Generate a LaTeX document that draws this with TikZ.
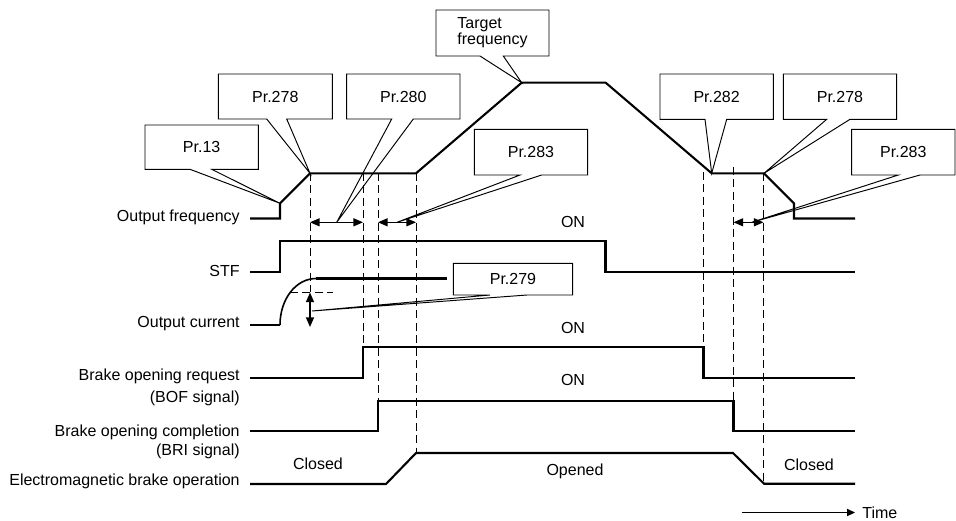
\documentclass[tikz,border=0pt]{standalone}
\usepackage{fontspec}
\setmainfont{Liberation Sans}
\usetikzlibrary{arrows.meta}
\newcommand\callbox[9]{%
  \draw[callout] (#2,#3) -- (#4,#3) -- (#4,#5) -- (#7,#5) -- (#8) -- (#6,#5) -- (#2,#5) -- cycle;
  \node[lbl] (#1) at ({(#2+#4)/2},{(#3+#5)/2}) {#9};
}
\begin{document}
\begin{tikzpicture}[x=0.625pt,y=-0.625pt,
  sig/.style={line width=1.3pt, line join=miter},
  dsh/.style={line width=0.6pt, dash pattern=on 5pt off 2.8pt},
  callout/.style={line width=0.6pt, line join=miter},
  lbl/.style={inner sep=0pt, font=\fontsize{10}{11}\selectfont},
  dimarrow/.style={line width=0.8pt, {Triangle[length=6pt,width=5pt]}-{Triangle[length=6pt,width=5pt]}},
]
\useasboundingbox (0,0) rectangle (956,520);

% ---------- key coordinates ----------
\coordinate (fstep) at (280,203.3);
\coordinate (facc)  at (310,173.3);
\coordinate (facc2) at (416,173.3);
\coordinate (ftop)  at (521.7,82.7);
\coordinate (fdec)  at (711.7,173.3);
\coordinate (fdec2) at (764,173.3);
\coordinate (d1tip) at (336.7,222.3);
\coordinate (d2tip) at (397,222.3);
\coordinate (d3tip) at (751.7,222.3);
\coordinate (ctip)  at (312,311);

% ---------- signal labels ----------
\node[lbl, anchor=base east] (lof)  at (240,221.5) {Output frequency};
\node[lbl, anchor=base east] (lstf) at (240,276)   {STF};
\node[lbl, anchor=base east] (loc)  at (240,327)   {Output current};
\node[lbl, anchor=base east] (lbor) at (240,380)   {Brake opening request};
\node[lbl, anchor=base east] (lbof) at (240,402)   {(BOF signal)};
\node[lbl, anchor=base east] (lboc) at (240,436.5) {Brake opening completion};
\node[lbl, anchor=base east] (lbri) at (240,455.5) {(BRI signal)};
\node[lbl, anchor=base east] (lemb) at (240,485)   {Electromagnetic brake operation};

% ---------- dashed guide lines ----------
\draw[dsh] (310,173) -- (310,292);
\draw[dsh] (363,173) -- (363,347);
\draw[dsh] (378,173) -- (378,401);
\draw[dsh] (416,173) -- (416,453);
\draw[dsh] (703.5,172) -- (703.5,347);
\draw[dsh] (733.5,167) -- (733.5,401);
\draw[dsh] (763.5,173) -- (763.5,483);
\draw[dsh] (290,292.3) -- (333,292.3);

% ---------- waveforms ----------
\draw[sig] (250,218.5) -- (280,218.5) -- (fstep) -- (facc) -- (facc2) -- (ftop)
  -- (605.7,82.7) -- (fdec) -- (fdec2) -- (794,203.3) -- (794,218.5) -- (855,218.5);
\draw[sig] (250,271.7) -- (280,271.7) -- (280,240.7) -- (605.5,240.7) -- (605.5,271.7) -- (855,271.7);
\draw[sig] (250,325) -- (280,325);
\draw[line width=1pt] (280,325) .. controls (280,299) and (296,278.5) .. (316,278.5);
\draw[sig] (316,278.5) -- (447,278.5);
\draw[sig] (250,377.7) -- (363,377.7) -- (363,346.7) -- (703.5,346.7) -- (703.5,377.7) -- (855,377.7);
\draw[sig] (250,430.7) -- (378,430.7) -- (378,401) -- (733.5,401) -- (733.5,430.7) -- (855,430.7);
\draw[sig] (250,484) -- (386,484) -- (416,453) -- (733,453) -- (764,483.7) -- (855,483.7);

% ---------- dimension arrows ----------
\draw[dimarrow] (310,222.3) -- (363,222.3);
\draw[dimarrow] (378,222.3) -- (416,222.3);
\draw[dimarrow] (733.5,222.3) -- (763.5,222.3);
\draw[dimarrow] (310,292.5) -- (310,327);

% ---------- state labels ----------
\node[lbl, anchor=base] (on1) at (573,227)   {ON};
\node[lbl, anchor=base] (on2) at (573,333)   {ON};
\node[lbl, anchor=base] (on3) at (573,385.5) {ON};
\node[lbl, anchor=base] (cl1) at (318,469.5) {Closed};
\node[lbl, anchor=base] (opn) at (575,475)   {Opened};
\node[lbl, anchor=base] (cl2) at (809,470)   {Closed};

% ---------- callouts ----------
\callbox{c13}{145}{125}{258.3}{169.3}{190}{211.7}{fstep}{Pr.13}
\callbox{c278a}{218.3}{74}{332.3}{119}{266.7}{286.7}{facc}{Pr.278}
\callbox{c280}{346.7}{74}{460}{119}{391.7}{413.3}{d1tip}{Pr.280}
\callbox{ctgt}{436}{10}{549}{56}{480}{503.3}{ftop}{\begin{tabular}{@{}l@{}}Target\\[-1.5pt]frequency\end{tabular}}
\callbox{c283a}{474.3}{129.3}{587.7}{175}{520}{541.7}{d2tip}{Pr.283}
\callbox{c279}{453.3}{263.3}{572.7}{295}{490}{527}{ctip}{Pr.279}
\callbox{c282}{660}{74}{773.3}{119.3}{705}{726.7}{fdec}{Pr.282}
\callbox{c278b}{783.3}{74}{896.7}{119.3}{826.7}{850}{fdec2}{Pr.278}
\callbox{c283b}{851.7}{129.3}{955}{175}{898.3}{920}{d3tip}{Pr.283}

% ---------- time axis ----------
\coordinate (tstart) at (742,512.5);
\node[lbl, anchor=west] (time) at (862,512.5) {Time};
\draw[line width=0.8pt, -{Triangle[length=5pt,width=4.5pt]}] (tstart) -- (time.west -| 855,0);
\end{tikzpicture}
\end{document}
